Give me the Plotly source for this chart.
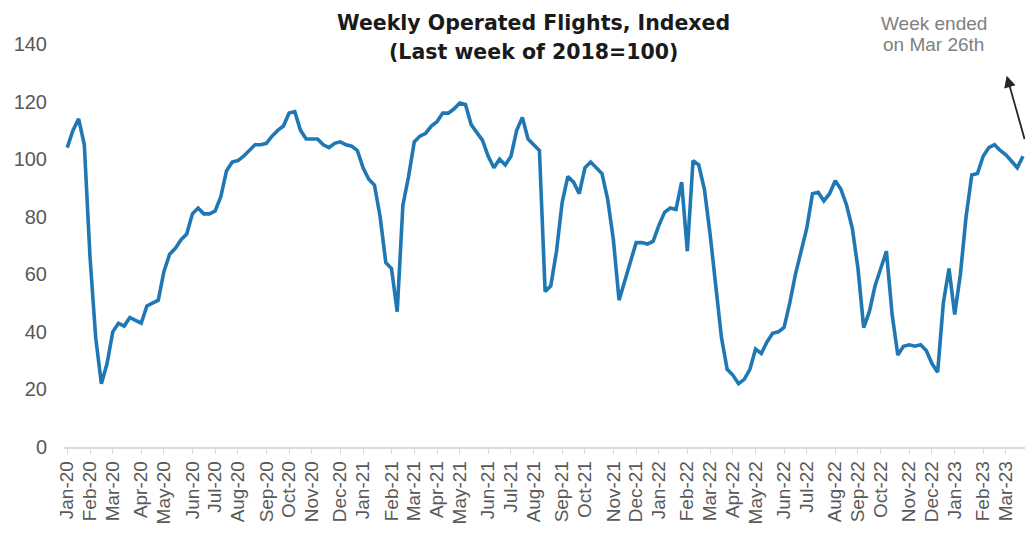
import pandas as pd
import plotly.graph_objects as go

# ---- data ----
start_week = "2020-01-05"   # week-ending dates (weekly)
flights_index = [
    104, 110, 114, 105, 66, 38, 22, 29, 40, 43,
    42, 45, 44, 43, 49, 50, 51, 61, 67, 69,
    72, 74, 81, 83, 81, 81, 82, 87, 96, 99,
    99.5, 101, 103, 105, 105, 105.5, 108, 110, 111.5, 116,
    116.5, 110, 107, 107, 107, 105, 104, 105.5, 106, 105,
    104.5, 103, 97, 93, 91, 80, 64, 62, 47, 84,
    94, 106, 108, 109, 111.5, 113, 116, 116, 117.5, 119.5,
    119, 112, 109, 106.5, 101, 97, 100, 98, 101, 110,
    114.5, 107, 105, 103, 54, 56, 68, 85, 94, 92,
    88, 97, 99, 97, 95, 86, 72, 51, 58, 65,
    71, 71, 70.5, 71.5, 77, 81.5, 83, 82.5, 92, 68,
    99.5, 98, 89.5, 74, 57, 38, 27, 25, 22, 23.5,
    27, 34, 32.5, 36.5, 39.5, 40, 41.5, 50, 60, 68,
    76, 88, 88.5, 85.5, 88, 92.5, 89.5, 84, 76, 62,
    41.5, 47, 56, 62, 68, 46, 32, 35, 35.5, 35,
    35.5, 33.5, 29, 26, 50, 62, 46, 60, 80, 94.5,
    95, 101, 104, 105, 103, 101.5, 99, 97, 101,
]
month_labels = [
    "Jan-20", "Feb-20", "Mar-20", "Apr-20", "May-20", "Jun-20", "Jul-20", "Aug-20",
    "Sep-20", "Oct-20", "Nov-20", "Dec-20", "Jan-21", "Feb-21", "Mar-21", "Apr-21",
    "May-21", "Jun-21", "Jul-21", "Aug-21", "Sep-21", "Oct-21", "Nov-21", "Dec-21",
    "Jan-22", "Feb-22", "Mar-22", "Apr-22", "May-22", "Jun-22", "Jul-22", "Aug-22",
    "Sep-22", "Oct-22", "Nov-22", "Dec-22", "Jan-23", "Feb-23", "Mar-23",
]
y_ticks = [0, 20, 40, 60, 80, 100, 120, 140]
title_lines = ["Weekly Operated Flights, Indexed", "(Last week of 2018=100)"]
note_lines = ["Week ended", "on Mar 26th"]

weeks = pd.date_range(start_week, periods=len(flights_index), freq="7D")

# first week of each month carries the month label
first_of_month = []
seen = set()
for d in weeks:
    key = (d.year, d.month)
    if key not in seen:
        seen.add(key)
        first_of_month.append(d)

fig = go.Figure()
fig.add_trace(go.Scatter(
    x=weeks, y=flights_index, mode="lines",
    line=dict(color="#1f78b4", width=3.6),
    hoverinfo="x+y", showlegend=False,
))

title_font = dict(family="DejaVu Sans, sans-serif", size=20.5, color="#1a1a1a", weight="bold")
note_font = dict(family="Liberation Sans, Arial, sans-serif", size=19, color="#7f7f7f")

# paper coords: plot area spans x 64..1025 px, y 44..447.5 px
annotations = [
    dict(text=title_lines[0], xref="paper", yref="paper", x=0.489, y=1.052,
         xanchor="center", yanchor="middle", showarrow=False, font=title_font),
    dict(text=title_lines[1], xref="paper", yref="paper", x=0.489, y=0.980,
         xanchor="center", yanchor="middle", showarrow=False, font=title_font),
    dict(text=note_lines[0], xref="paper", yref="paper", x=0.905, y=1.052,
         xanchor="center", yanchor="middle", showarrow=False, font=note_font),
    dict(text=note_lines[1], xref="paper", yref="paper", x=0.905, y=1.000,
         xanchor="center", yanchor="middle", showarrow=False, font=note_font),
    dict(
        text="", xref="x", yref="y",
        x=weeks[-4] + pd.Timedelta(days=1), y=129,
        ax=24, ay=65, axref="pixel", ayref="pixel",
        showarrow=True, arrowhead=2, arrowsize=1.3,
        arrowwidth=1.8, arrowcolor="#262626", standoff=0,
    ),
]

fig.update_layout(
    width=1025, height=535,
    margin=dict(l=64, r=0, t=44, b=87.5),
    paper_bgcolor="white", plot_bgcolor="white",
    font=dict(family="Liberation Sans, Arial, sans-serif", color="#595959"),
    hovermode=False,
    xaxis=dict(
        type="date",
        range=["2020-01-01", "2023-03-28 12:00"],
        tickvals=first_of_month[:len(month_labels)],
        ticktext=month_labels,
        tickangle=-90,
        tickfont=dict(size=19, color="#595959"),
        showgrid=False, zeroline=False,
        showline=True, linecolor="#d9d9d9", linewidth=1.5,
        ticks="outside", ticklen=5, tickcolor="#d9d9d9", tickwidth=1,
    ),
    yaxis=dict(
        range=[0, 140],
        tickvals=y_ticks,
        tickfont=dict(size=20, color="#595959"),
        showgrid=False, zeroline=False, showline=False,
        ticks="", ticklabelstandoff=16,
    ),
    annotations=annotations,
)

fig.write_html(
    "out.html",
    config={"displayModeBar": False, "staticPlot": True},
    post_script=(
        "document.body.style.margin='0';"
        "document.body.style.overflow='hidden';"
        "document.documentElement.style.overflow='hidden';"
    ),
)
